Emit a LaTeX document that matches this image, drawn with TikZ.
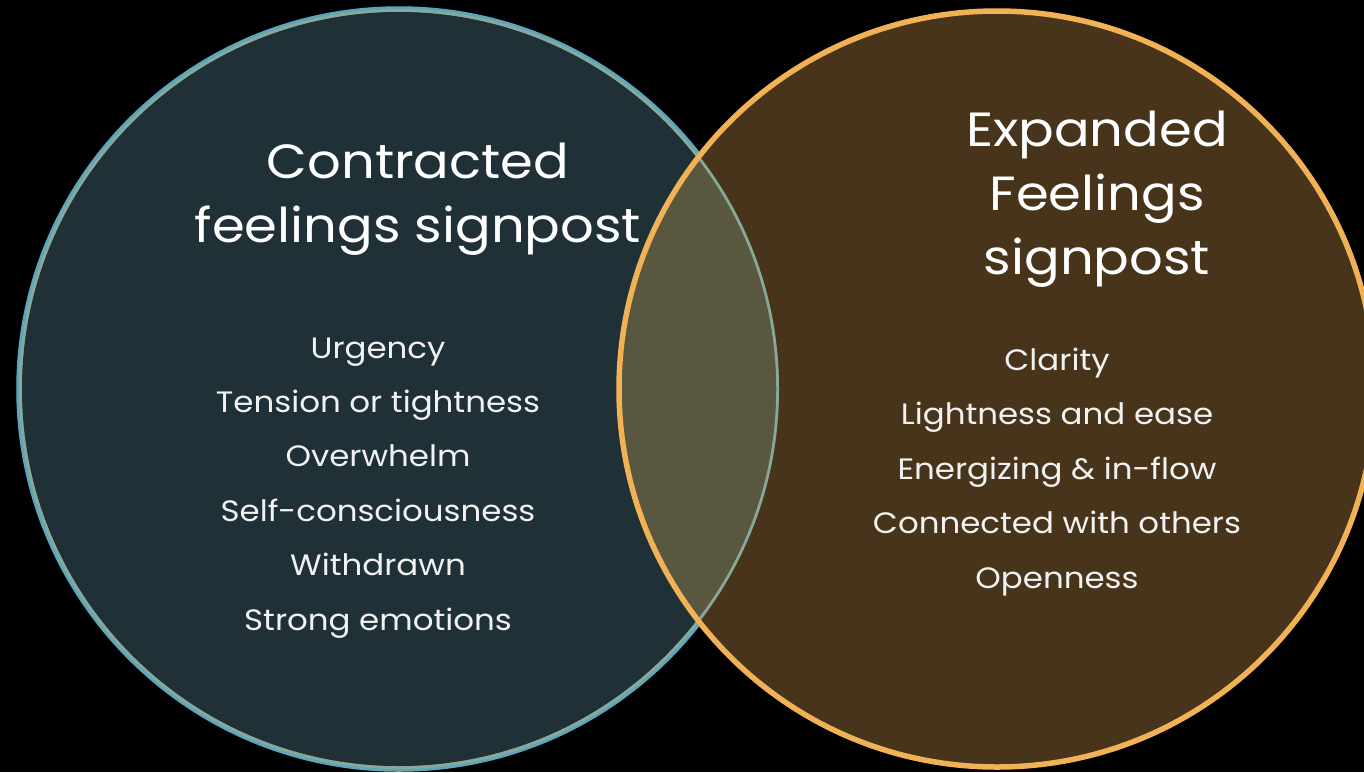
\documentclass[tikz,border=0pt]{standalone}
\usepackage{fontspec}
\setmainfont{Poppins}[FakeStretch=1.1]
\definecolor{leftfill}{HTML}{1F3136}
\definecolor{leftline}{HTML}{5AA6BD}
\definecolor{rightfill}{HTML}{47341B}
\definecolor{rightline}{HTML}{F0B254}
\definecolor{overfill}{HTML}{5A5740}
\definecolor{overline}{HTML}{88A89A}
\definecolor{txt}{HTML}{F2F2F2}
\tikzset{
  title/.style={text=white, align=center, font=\fontsize{48}{64}\selectfont, inner sep=0pt},
  item/.style={text=txt, font=\fontsize{29.5}{30}\selectfont, inner sep=0pt, anchor=base},
}
\begin{document}
\begin{tikzpicture}[x=1pt,y=-1pt]
\fill[black] (0,0) rectangle (1364,772);
\useasboundingbox (0,0) rectangle (1364,772);
\begin{scope}
\clip (0,0) rectangle (1364,772);
\fill[leftfill] (399,389) circle (380);
\draw[leftline, line width=5.5pt] (399,389) circle (380);
\fill[rightfill] (997,389) circle (378);
\begin{scope}
\clip (399,389) circle (380);
\fill[overfill] (997,389) circle (378);
\draw[overline, line width=5.5pt] (399,389) circle (380);
\end{scope}
\draw[rightline, line width=5.5pt] (997,389) circle (378);
\end{scope}

\node[title] (lt) at (418,199) {Contracted\\feelings signpost};
\node[title] (rt) at (1097,199) {Expanded\\Feelings\\signpost};

\node[item] (l1) at (378,358) {Urgency};
\node[item] (l2) at (378,412) {Tension or tightness};
\node[item] (l3) at (378,466) {Overwhelm};
\node[item] (l4) at (378,521) {Self-consciousness};
\node[item] (l5) at (378,575) {Withdrawn};
\node[item] (l6) at (378,630) {Strong emotions};

\node[item] (r1) at (1057,370) {Clarity};
\node[item] (r2) at (1057,424) {Lightness and ease};
\node[item] (r3) at (1057,479) {Energizing \& in-flow};
\node[item] (r4) at (1057,533) {Connected with others};
\node[item] (r5) at (1057,588) {Openness};
\end{tikzpicture}
\end{document}
